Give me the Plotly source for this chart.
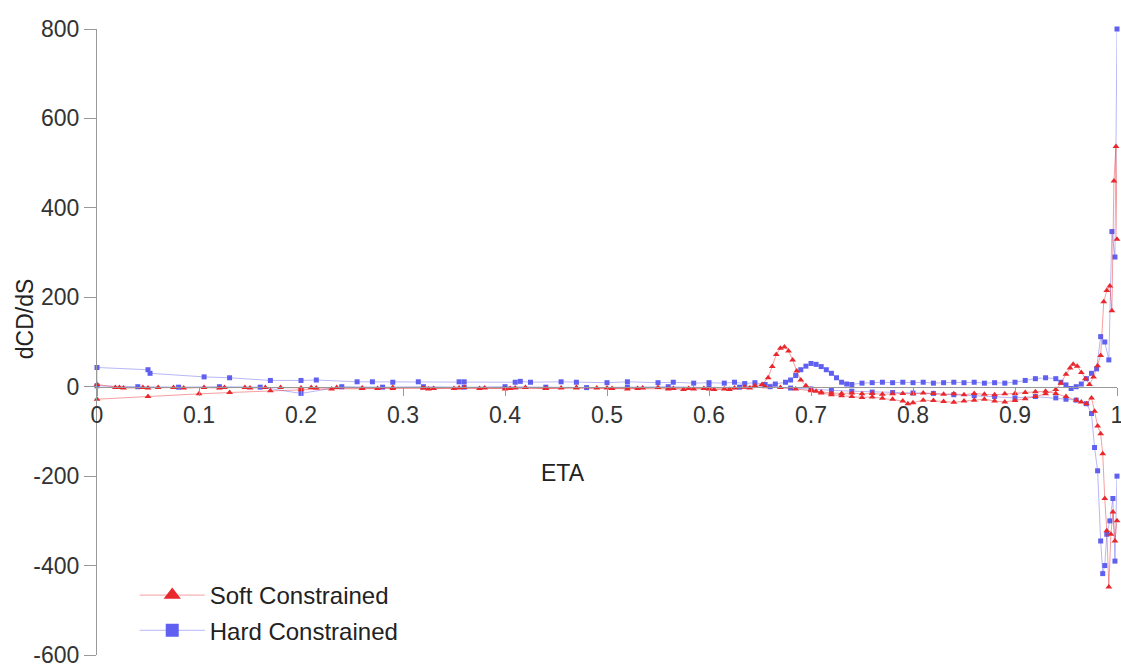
import plotly.graph_objects as go

# ---- surface sensitivity data: dCD/dS along the chord (ETA) ----
# Soft constrained design, lower surface (leading edge -> trailing edge)
soft_lower_eta = [0.0, 0.05, 0.10, 0.13, 0.17, 0.20, 0.23, 0.26, 0.29, 0.32,
                  0.35, 0.38, 0.41, 0.44, 0.47, 0.50, 0.53, 0.56, 0.58, 0.60,
                  0.62, 0.64, 0.655, 0.67, 0.685, 0.70, 0.71, 0.72, 0.73, 0.74,
                  0.75, 0.76, 0.77, 0.78, 0.79, 0.80, 0.81, 0.82, 0.83, 0.84,
                  0.85, 0.86, 0.87, 0.88, 0.89, 0.90, 0.91, 0.92, 0.93, 0.94,
                  0.95, 0.96, 0.965, 0.97, 0.975, 0.978, 0.981, 0.984, 0.986, 0.988,
                  0.990, 0.992, 0.994, 0.996, 0.998, 1.0]
soft_lower_val = [-28, -22, -16, -13, -9, -7, -5, -4, -4, -3,
                  -4, -3, -3, -4, -3, -3, -4, -5, -4, -5,
                  -6, -3, 0, -2, -5, -9, -12, -14, -15, -14,
                  -16, -15, -17, -16, -15, -16, -14, -15, -17, -16,
                  -18, -15, -17, -18, -16, -15, -13, -11, -10, -15,
                  -22, -30, -34, -38, -25, -55, -88, -105, -150, -250,
                  -322, -448, -330, -280, -345, -300]

# Soft constrained design, upper surface (leading edge -> trailing edge)
soft_upper_eta = [0.0, 0.018, 0.022, 0.026, 0.045, 0.05, 0.06, 0.075, 0.085, 0.105,
                  0.12, 0.125, 0.145, 0.15, 0.165, 0.18, 0.20, 0.21, 0.215, 0.235,
                  0.26, 0.275, 0.29, 0.32, 0.325, 0.33, 0.355, 0.36, 0.375, 0.40,
                  0.405, 0.42, 0.44, 0.455, 0.47, 0.49, 0.505, 0.52, 0.535, 0.55,
                  0.565, 0.575, 0.585, 0.595, 0.605, 0.615, 0.625, 0.635, 0.645, 0.652,
                  0.658, 0.662, 0.666, 0.67, 0.674, 0.678, 0.682, 0.686, 0.69, 0.695,
                  0.70, 0.705, 0.71, 0.72, 0.73, 0.74, 0.75, 0.76, 0.77, 0.78,
                  0.79, 0.795, 0.80, 0.81, 0.82, 0.83, 0.84, 0.85, 0.86, 0.87,
                  0.88, 0.89, 0.90, 0.91, 0.92, 0.93, 0.94, 0.945, 0.95, 0.954,
                  0.957, 0.961, 0.965, 0.969, 0.973, 0.977, 0.981, 0.984, 0.987, 0.99,
                  0.993, 0.995, 0.997, 0.999, 1.0]
soft_upper_val = [5, -2, -2, -3, -2, -3, -2, -2, -3, -2,
                  -3, -2, -2, -3, -2, -2, -3, -2, -3, -2,
                  -3, -4, -2, -3, -5, -4, -3, -2, -4, -5,
                  -4, -2, -4, -3, -2, -3, -4, -5, -3, -2,
                  -4, -6, -5, -4, -6, -5, -3, -1, 2, 5,
                  20, 45, 72, 86, 89, 80, 60, 35, 15, 2,
                  -6, -10, -14, -18, -20, -22, -24, -23, -26, -28,
                  -32, -38, -36, -30, -31, -33, -35, -32, -30, -28,
                  -32, -34, -31, -27, -22, -16, -6, 8, 28, 42,
                  50, 46, 32, 18, 5, 22, 47, 70, 190, 215,
                  225, 170, 460, 537, 330]

# Hard constrained design, lower surface (leading edge -> trailing edge)
hard_lower_eta = [0.0, 0.04, 0.08, 0.12, 0.16, 0.20, 0.24, 0.28, 0.32, 0.36,
                  0.40, 0.44, 0.48, 0.52, 0.56, 0.60, 0.63, 0.66, 0.68, 0.70,
                  0.72, 0.74, 0.76, 0.78, 0.80, 0.82, 0.84, 0.86, 0.88, 0.90,
                  0.92, 0.94, 0.95, 0.96, 0.97, 0.975, 0.978, 0.981, 0.984, 0.986,
                  0.988, 0.99, 0.993, 0.996, 0.998, 1.0]
hard_lower_val = [2, 0, -1, 0, -1, -15, 0, -1, 0, -1,
                  0, -1, -2, -1, 0, -2, -1, 0, -3, -5,
                  -8, -10, -12, -13, -14, -15, -18, -20, -22, -25,
                  -22, -25, -28, -30, -38, -60, -136, -188, -345, -418,
                  -400, -330, -300, -250, -390, -200]

# Hard constrained design, upper surface (leading edge -> trailing edge)
hard_upper_eta = [0.0, 0.05, 0.052, 0.105, 0.13, 0.17, 0.20, 0.215, 0.255, 0.27,
                  0.29, 0.315, 0.355, 0.36, 0.41, 0.415, 0.425, 0.455, 0.47, 0.5,
                  0.52, 0.55, 0.565, 0.585, 0.6, 0.615, 0.625, 0.635, 0.645, 0.655,
                  0.665, 0.675, 0.68, 0.685, 0.69, 0.695, 0.70, 0.705, 0.71, 0.715,
                  0.72, 0.725, 0.73, 0.735, 0.74, 0.75, 0.76, 0.77, 0.78, 0.79,
                  0.80, 0.81, 0.82, 0.83, 0.84, 0.85, 0.86, 0.87, 0.88, 0.89,
                  0.90, 0.91, 0.92, 0.93, 0.94, 0.945, 0.95, 0.955, 0.96, 0.965,
                  0.97, 0.975, 0.98, 0.984, 0.988, 0.992, 0.995, 0.998, 1.0]
hard_upper_val = [43, 38, 30, 22, 20, 14, 14, 15, 11, 11,
                  10, 11, 11, 11, 10, 12, 10, 11, 10, 9,
                  11, 9, 10, 8, 9, 8, 10, 7, 9, 5,
                  6, 10, 15, 25, 38, 46, 52, 50, 45, 38,
                  30, 20, 10, 6, 5, 8, 9, 10, 9, 10,
                  9, 10, 8, 9, 10, 9, 10, 8, 9, 8,
                  10, 14, 18, 20, 18, 10, 4, -4, 0, 6,
                  18, 30, 40, 112, 100, 60, 347, 290, 800]

# Axis ticks
eta_ticks = [0, 0.1, 0.2, 0.3, 0.4, 0.5, 0.6, 0.7, 0.8, 0.9, 1]
eta_tick_labels = ["0", "0.1", "0.2", "0.3", "0.4", "0.5", "0.6", "0.7", "0.8", "0.9", "1"]
dcd_ticks = [-600, -400, -200, 0, 200, 400, 600, 800]
dcd_tick_labels = ["-600", "-400", "-200", "0", "200", "400", "600", "800"]

Y_MIN, Y_MAX = -600, 800


def surface_loop(lower_eta, lower_val, upper_eta, upper_val):
    """Trailing edge -> leading edge along the lower surface, then back along the upper."""
    xs = list(reversed(lower_eta)) + list(upper_eta)
    ys = list(reversed(lower_val)) + list(upper_val)
    return xs, ys


RED = "rgb(232,40,45)"
RED_LINE = "rgba(232,40,45,0.45)"
BLUE = "rgb(95,95,240)"
BLUE_LINE = "rgba(95,95,240,0.45)"
FONT = "Liberation Sans, Arial, sans-serif"

fig = go.Figure()

hx, hy = surface_loop(hard_lower_eta, hard_lower_val, hard_upper_eta, hard_upper_val)
fig.add_trace(go.Scatter(
    x=hx, y=hy, mode="lines+markers", name="Hard Constrained",
    legendgroup="hard", showlegend=False,
    line=dict(color=BLUE_LINE, width=1),
    marker=dict(symbol="square", size=5, color=BLUE),
    cliponaxis=False,
))

sx, sy = surface_loop(soft_lower_eta, soft_lower_val, soft_upper_eta, soft_upper_val)
fig.add_trace(go.Scatter(
    x=sx, y=sy, mode="lines+markers", name="Soft Constrained",
    legendgroup="soft", showlegend=False,
    line=dict(color=RED_LINE, width=1),
    marker=dict(symbol="triangle-up", size=6, color=RED),
    cliponaxis=False,
))

# Legend entries with larger symbols
fig.add_trace(go.Scatter(
    x=[None], y=[None], mode="lines+markers", name="Soft Constrained",
    legendgroup="soft", legendrank=1,
    line=dict(color=RED_LINE, width=1),
    marker=dict(symbol="triangle-up", size=15, color=RED),
))
fig.add_trace(go.Scatter(
    x=[None], y=[None], mode="lines+markers", name="Hard Constrained",
    legendgroup="hard", legendrank=2,
    line=dict(color=BLUE_LINE, width=1),
    marker=dict(symbol="square", size=13, color=BLUE),
))

fig.update_layout(
    width=1121, height=666,
    margin=dict(l=97, r=4, t=29, b=11),
    paper_bgcolor="white", plot_bgcolor="white",
    font=dict(family=FONT, size=23, color="#333"),
    showlegend=True,
    legend=dict(
        x=0.037, y=0.131, xanchor="left", yanchor="top",
        font=dict(family=FONT, size=24, color="#222"),
        itemwidth=65, tracegroupgap=1, traceorder="grouped",
        bgcolor="rgba(0,0,0,0)", borderwidth=0,
    ),
    xaxis=dict(
        range=[0, 1], tickvals=eta_ticks, ticktext=eta_tick_labels,
        anchor="free", position=(0 - Y_MIN) / (Y_MAX - Y_MIN),
        showline=True, linecolor="#999", linewidth=1,
        ticks="outside", ticklen=8, tickcolor="#999",
        showgrid=False, zeroline=False,
        automargin=False, ticklabeloverflow="allow",
        tickfont=dict(family=FONT, size=23, color="#333"),
    ),
    yaxis=dict(
        range=[Y_MIN, Y_MAX], tickvals=dcd_ticks, ticktext=dcd_tick_labels,
        showline=True, linecolor="#999", linewidth=1,
        ticks="outside", ticklen=12, tickcolor="#999",
        showgrid=False, zeroline=False,
        automargin=False, ticklabeloverflow="allow",
        tickfont=dict(family=FONT, size=23, color="#333"),
    ),
    annotations=[
        dict(text="ETA", xref="paper", yref="paper", x=0.457, y=0.2907,
             showarrow=False, xanchor="center", yanchor="middle",
             font=dict(family=FONT, size=23, color="#222")),
        dict(text="dCD/dS", xref="paper", yref="paper", x=-0.0706, y=0.538,
             showarrow=False, xanchor="center", yanchor="middle", textangle=-90,
             font=dict(family=FONT, size=23, color="#222")),
    ],
)

fig.write_html("out.html")
